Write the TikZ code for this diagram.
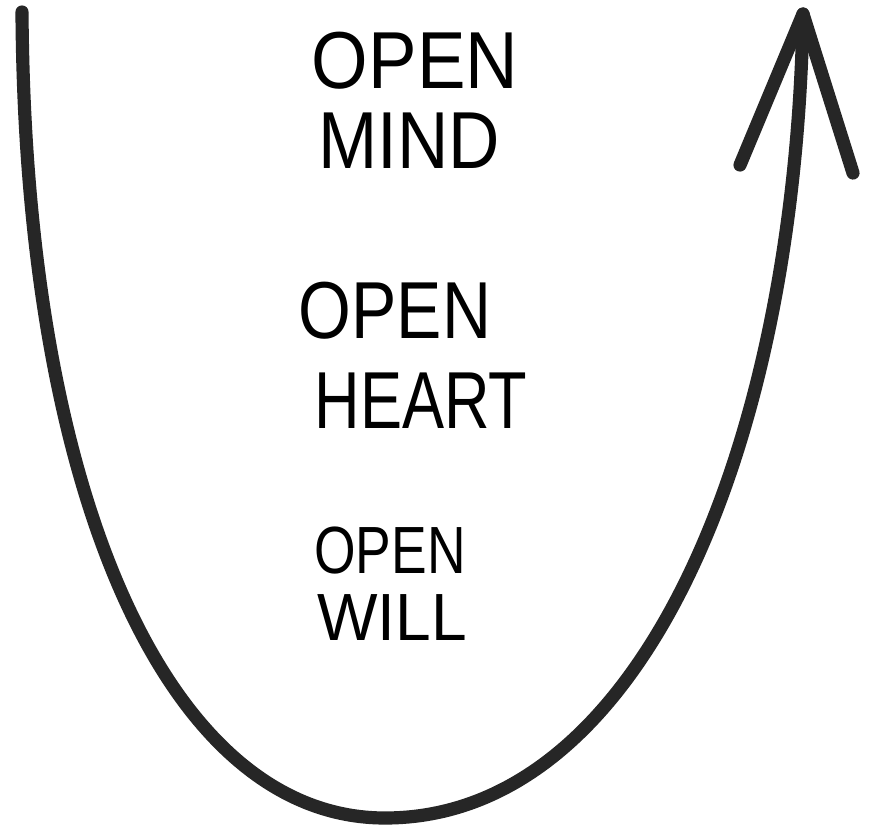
\documentclass[tikz,border=0pt]{standalone}
\usepackage{fontspec}
\setmainfont{Liberation Sans}
\begin{document}
\begin{tikzpicture}[x=0.02cm,y=-0.02cm,
  curve/.style={draw=black!85, line width=7.5pt, line cap=round, line join=round},
  lbl/.style={anchor=base, inner sep=0pt, text=black},
  big/.style={font=\fontsize{46}{50}\selectfont},
  small/.style={font=\fontsize{38}{42}\selectfont}]
\useasboundingbox[fill=white] (0,0) rectangle (869,833);
\coordinate (start) at (22,12);
\coordinate (bottom) at (385,818);
\coordinate (tip) at (803,14);
\coordinate (barbL) at (740,165);
\coordinate (barbR) at (853,173);
\draw[curve] (start) .. controls (25,500) and (170,818) .. (bottom)
  .. controls (640,818) and (795,450) .. (tip);
\draw[curve] (barbL) -- (tip) -- (barbR);
\node[lbl,big] (om1) at (415,88) {\scalebox{0.9}[1]{OPEN}};
\node[lbl,big] (om2) at (409,168) {\scalebox{0.88}[1]{MIND}};
\node[lbl,big] (oh1) at (395,338) {\scalebox{0.84}[1]{OPEN}};
\node[lbl,big] (oh2) at (421,428) {\scalebox{0.78}[1]{HEART}};
\node[lbl,small] (ow1) at (390,573) {\scalebox{0.8}[1]{OPEN}};
\node[lbl,small] (ow2) at (392,640) {\scalebox{0.96}[1]{WILL}};
\end{tikzpicture}
\end{document}
